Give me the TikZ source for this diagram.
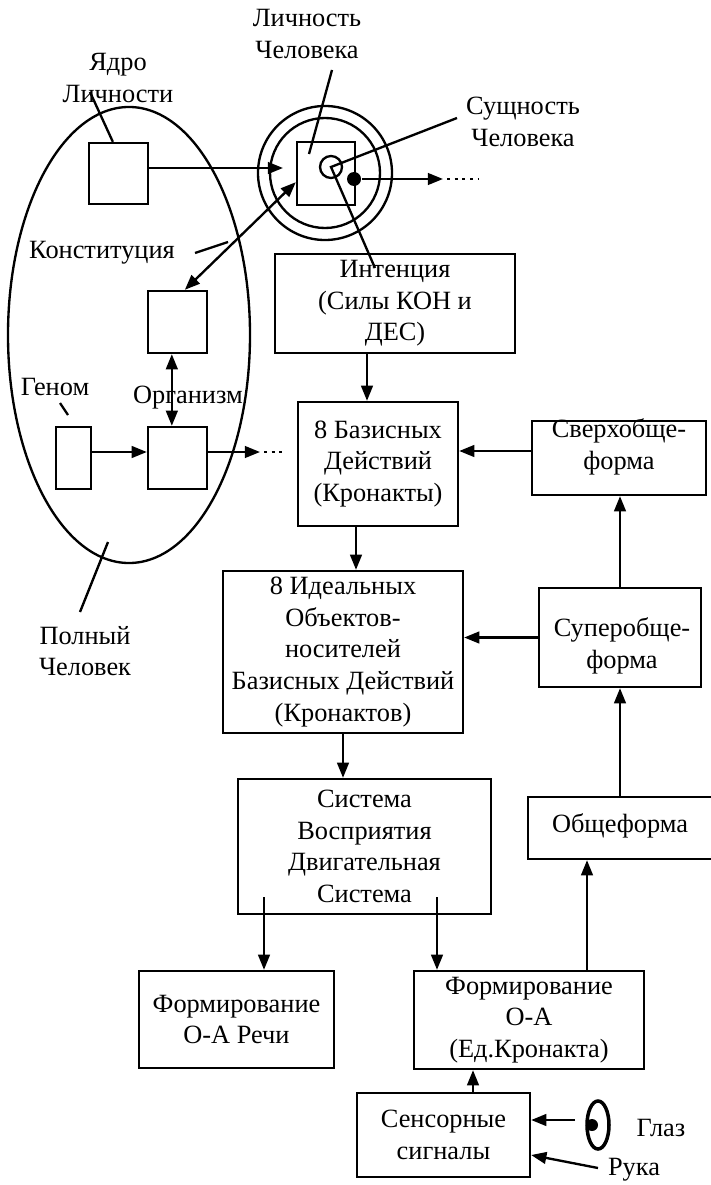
\documentclass[tikz,border=0pt]{standalone}
\usepackage{fontspec}
\setmainfont{Liberation Serif}
\usetikzlibrary{arrows.meta,shapes.geometric}

\begin{document}
\begin{tikzpicture}[x=0.03cm,y=-0.03cm,line width=2pt,
  font=\fontsize{22.5pt}{27pt}\selectfont,
  blk/.style={draw,rectangle,inner sep=0pt,align=center},
  lbl/.style={inner sep=0pt,align=center},
  arr/.style={-{Triangle[length=13pt,width=10pt]}},
  arrs/.style={{Triangle[length=13pt,width=10pt]}-{Triangle[length=13pt,width=10pt]}},
  dots/.style={dash pattern=on 2.4pt off 4.2pt}]
\useasboundingbox (0,0) rectangle (711,1185);

\node[draw,ellipse,inner sep=0pt,minimum width=7.26cm,minimum height=13.68cm] (whole) at (129,335) {};
\node[blk,minimum width=1.77cm,minimum height=1.83cm] (yadro) at (118.5,173.5) {};
\node[blk,minimum width=1.77cm,minimum height=1.86cm] (konst) at (177.5,322) {};
\node[blk,minimum width=1.77cm,minimum height=1.86cm] (organ) at (177.5,458) {};
\node[blk,minimum width=1.05cm,minimum height=1.86cm] (genome) at (73.5,458) {};

\node[draw,circle,inner sep=0pt,minimum size=4.02cm] (outerring) at (325,173) {};
\node[draw,circle,inner sep=0pt,minimum size=3.3cm] (innerring) at (325,173) {};
\node[blk,minimum width=1.74cm,minimum height=1.89cm] (pers) at (326,173.5) {};
\node[draw,circle,inner sep=0pt,minimum size=0.66cm] (core) at (331,167) {};
\node[circle,fill,inner sep=0pt,minimum size=0.42cm] (dot) at (354,179) {};

\node[lbl] (yadrotxt) at (118,78) {Ядро\\Личности};
\node[lbl] (lichtxt) at (307,34) {Личность\\Человека};
\node[lbl] (sushtxt) at (523,122) {Сущность\\Человека};
\node[lbl] (konsttxt) at (102,253) {Конституция};
\node[lbl] (organtxt) at (188,398) {Организм};
\node[lbl] (genometxt) at (55,387) {Геном};
\node[lbl] (polntxt) at (85,651) {Полный\\Человек};

\node[blk,minimum width=7.2cm,minimum height=2.97cm] (intent) at (395,303.5) {Интенция\\(Силы КОН и\\ДЕС)};
\node[blk,minimum width=4.8cm,minimum height=3.72cm] (bazis) at (378,464) {8 Базисных\\Действий\\(Кронакты)};
\node[blk,minimum width=5.22cm,minimum height=2.22cm] (sverkh) at (619,458) {};
\node[lbl] (sverkhtxt) at (619,447) {Сверхобще-\\форма};
\node[blk,minimum width=7.2cm,minimum height=4.86cm] (ideal) at (343,652) {8 Идеальных\\Объектов-\\носителей\\Базисных Действий\\(Кронактов)};
\node[blk,minimum width=4.86cm,minimum height=2.97cm] (super) at (620,637.5) {};
\node[lbl] (supertxt) at (622,646) {Суперобще-\\форма};
\node[blk,minimum width=7.59cm,minimum height=4.05cm] (sistema) at (364.5,846.5) {Система\\Восприятия\\Двигательная\\Система};
\node[blk,minimum width=5.64cm,minimum height=1.86cm] (obshche) at (622,828) {};
\node[lbl] (obshchetxt) at (620,826) {Общеформа};
\node[blk,minimum width=5.85cm,minimum height=2.91cm] (rech) at (236.5,1019.5) {Формирование\\О-А Речи};
\node[blk,minimum width=6.9cm,minimum height=2.94cm] (foa) at (529,1020) {Формирование\\О-А\\(Ед.Кронакта)};
\node[blk,minimum width=5.19cm,minimum height=2.52cm] (sensor) at (443.5,1135) {Сенсорные\\сигналы};

\node[draw,ellipse,line width=3pt,inner sep=0pt,minimum width=0.66cm,minimum height=1.44cm] (eye) at (598,1125) {};
\node[circle,fill,inner sep=0pt,minimum size=0.36cm] (pupil) at (592,1125) {};
\node[lbl] (glaztxt) at (661,1128) {Глаз};
\node[lbl] (rukatxt) at (634,1170) {Рука};

\coordinate (persin) at (283,168);
\coordinate (lichend) at (443,179);
\coordinate (lichdots) at (478,179);
\coordinate (organend) at (260,452);
\coordinate (organdots) at (282,452);
\coordinate (yadrotip) at (90,92);
\coordinate (lichtip) at (332,70);
\coordinate (lichin) at (309,154);
\coordinate (sushtip) at (457,118);
\coordinate (intenttip) at (375,268);
\coordinate (konsttip) at (195,253);
\coordinate (konstend) at (228,242);
\coordinate (genomtip) at (60,403);
\coordinate (genomend) at (68,415);
\coordinate (polntip) at (80,612);
\coordinate (polnend) at (108,542);
\coordinate (sis1) at (264,897);
\coordinate (sis2) at (437,897);
\coordinate (eyeend) at (575,1120);
\coordinate (rukaend) at (598,1168);

\draw[arr] (yadro.east |- persin) -- (persin);
\draw[arr] (dot) -- (lichend);
\draw[dots] ([xshift=0.12cm]lichend) -- (lichdots);
\draw[arrs] ([xshift=0.22cm]konst.north) -- ([yshift=-0.26cm]pers.west);
\draw[arrs] ([xshift=-0.17cm]konst.south) -- ([xshift=-0.17cm]organ.north);
\draw[arr] ([yshift=0.18cm]genome.east) -- ([yshift=0.18cm]organ.west);
\draw[arr] ([yshift=0.18cm]organ.east) -- (organend);
\draw[dots] ([xshift=0.12cm]organend) -- (organdots);

\draw (yadrotip) -- ([xshift=-0.17cm]yadro.north);
\draw (lichtip) -- (lichin);
\draw (sushtip) -- (core.center) -- (intenttip);
\draw (konsttip) -- (konstend);
\draw (genomtip) -- (genomend);
\draw (polntip) -- (polnend);

\draw[arr] ([xshift=-0.84cm]intent.south) coordinate (is) -- (is |- bazis.north);
\draw[arr] ([yshift=0.21cm]sverkh.west) coordinate (sw) -- (sw -| bazis.east);
\draw[arr] ([xshift=-0.66cm]bazis.south) coordinate (bs) -- (bs |- ideal.north);
\draw[arr] (super.west) -- (super.west -| ideal.east);
\draw[arr] (super.north) -- (super.north |- sverkh.south);
\draw[arr] (super.south |- obshche.north) -- (super.south);
\draw[arr] (ideal.south) -- (ideal.south |- sistema.north);
\draw[arr] (sis1) -- (sis1 |- rech.north);
\draw[arr] (sis2) -- (sis2 |- foa.north);
\draw[arr] ([xshift=1.74cm]foa.north) coordinate (fn) -- (fn |- obshche.south);
\draw[arr] ([xshift=0.885cm]sensor.north) coordinate (sn) -- (sn |- foa.south);
\draw[arr] (eyeend) -- (eyeend -| sensor.east);
\draw[arr] (rukaend) -- ([yshift=-0.6cm]sensor.east);
\end{tikzpicture}
\end{document}
